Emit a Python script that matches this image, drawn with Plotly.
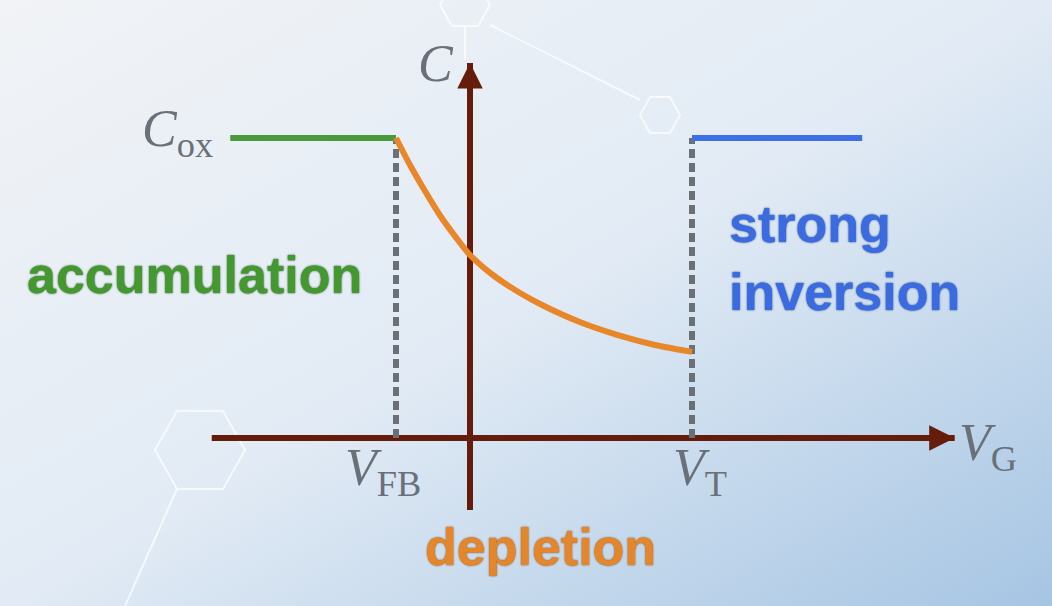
import plotly.graph_objects as go

# C-V curve of a MOS capacitor (sketch), gate voltage in arbitrary units
V_FB = -1.0
V_T = 3.0
C_OX = 1.0

# axes extents
vg_axis = [-3.49, 6.55]
c_axis = [-0.24, 1.25]

# accumulation (flat at Cox)
acc_vg = [-3.24, V_FB]
acc_c = [C_OX, C_OX]

# depletion (falling curve)
dep_vg = [-1.0, -0.8, -0.6, -0.4, -0.2, 0.0, 0.3, 0.7, 1.0, 1.5, 2.0, 2.5, 3.0]
dep_c = [1.0, 0.905, 0.82, 0.74, 0.672, 0.61, 0.545, 0.48, 0.44, 0.385, 0.343, 0.31, 0.287]

# strong inversion (back at Cox)
inv_vg = [V_T, 5.3]
inv_c = [C_OX, C_OX]

AXIS = "#651c0a"
GRAY_TXT = "#697079"

bg_svg = (
    "data:image/svg+xml;utf8,"
    "<svg xmlns='http://www.w3.org/2000/svg' width='1052' height='606'>"
    "<defs><linearGradient id='g' x1='0' y1='0' x2='1' y2='1'>"
    "<stop offset='0' stop-color='%23f1f3f6'/>"
    "<stop offset='0.5' stop-color='%23e2ebf5'/>"
    "<stop offset='1' stop-color='%23a6c5e3'/>"
    "</linearGradient></defs>"
    "<rect width='1052' height='606' fill='url(%23g)'/>"
    "<g fill='none' stroke='white' stroke-opacity='0.7' stroke-width='2'>"
    "<path d='M155,450 L177,411 L223,411 L245,450 L223,489 L177,489 Z'/>"
    "<path d='M177,489 L125,606'/>"
    "<path d='M640,115 L650,97 L670,97 L680,115 L670,133 L650,133 Z'/>"
    "<path d='M440,5 L452,-16 L478,-16 L490,5 L478,26 L452,26 Z'/>"
    "<path d='M490,25 L640,100'/>"
    "<path d='M465,26 L465,60'/>"
    "</g></svg>"
)

fig = go.Figure()

# axes lines
fig.add_trace(go.Scatter(x=vg_axis, y=[0, 0], mode="lines",
                         line=dict(color=AXIS, width=6), hoverinfo="skip"))
fig.add_trace(go.Scatter(x=[0, 0], y=c_axis, mode="lines",
                         line=dict(color=AXIS, width=6), hoverinfo="skip"))

# dashed guides at V_FB and V_T
for v in (V_FB, V_T):
    fig.add_trace(go.Scatter(x=[v, v], y=[0, C_OX], mode="lines",
                             line=dict(color="#6b7076", width=6, dash="9px,5px"),
                             hoverinfo="skip"))

fig.add_trace(go.Scatter(x=acc_vg, y=acc_c, mode="lines",
                         line=dict(color="#4a9a3c", width=6)))
fig.add_trace(go.Scatter(x=dep_vg, y=dep_c, mode="lines",
                         line=dict(color="#e8862a", width=6, shape="spline", smoothing=0.8)))
fig.add_trace(go.Scatter(x=inv_vg, y=inv_c, mode="lines",
                         line=dict(color="#3d6fe6", width=6)))

# arrow heads
fig.add_annotation(x=vg_axis[1], y=0, ax=vg_axis[1] - 0.4, ay=0, axref="x", ayref="y",
                   text="", showarrow=True, arrowhead=2, arrowsize=0.85,
                   arrowwidth=6, arrowcolor=AXIS)
fig.add_annotation(x=0, y=c_axis[1], ax=0, ay=c_axis[1] - 0.1, axref="x", ayref="y",
                   text="", showarrow=True, arrowhead=2, arrowsize=0.85,
                   arrowwidth=6, arrowcolor=AXIS)

serif = dict(family="Liberation Serif", color=GRAY_TXT)
fig.add_annotation(x=-3.45, y=1.017, text="<i>C</i><sub>ox</sub>", showarrow=False,
                   xanchor="right", yanchor="middle", font=dict(size=52, **serif))
fig.add_annotation(x=-0.46, y=1.247, text="<i>C</i>", showarrow=False,
                   font=dict(size=52, **serif))
fig.add_annotation(x=V_FB - 0.18, y=-0.113, text="<i>V</i><sub>FB</sub>", showarrow=False,
                   font=dict(size=52, **serif))
fig.add_annotation(x=V_T + 0.11, y=-0.113, text="<i>V</i><sub>T</sub>", showarrow=False,
                   font=dict(size=52, **serif))
fig.add_annotation(x=7.0, y=-0.027, text="<i>V</i><sub>G</sub>", showarrow=False,
                   font=dict(size=52, **serif))

fig.add_annotation(x=-3.72, y=0.543, text="<b>accumulation</b>", showarrow=False,
                   font=dict(family="Liberation Sans", size=52, color="#43982f",
                             shadow="0px 0px 2px #1f4a18"))
fig.add_annotation(x=3.47, y=0.6, text="<b>strong<br>inversion</b>", showarrow=False,
                   xanchor="left", align="left",
                   font=dict(family="Liberation Sans", size=52, color="#3b6be0",
                             shadow="0px 0px 2px #1c3a80"))
fig.add_annotation(x=0.946, y=-0.363, text="<b>depletion</b>", showarrow=False,
                   font=dict(family="Liberation Sans", size=52, color="#e5862a",
                             shadow="0px 0px 2px #7a4010"))

fig.update_layout(
    width=1052, height=606,
    margin=dict(l=0, r=0, t=0, b=0),
    paper_bgcolor="#e6eef6", plot_bgcolor="rgba(0,0,0,0)",
    showlegend=False,
    xaxis=dict(range=[-470 / 74, 582 / 74], visible=False, fixedrange=True),
    yaxis=dict(range=[-168 / 300, 438 / 300], visible=False, fixedrange=True),
    images=[dict(source=bg_svg, xref="paper", yref="paper", x=0, y=1,
                 sizex=1, sizey=1, sizing="stretch", layer="below",
                 xanchor="left", yanchor="top")],
)

# drop the default page margin so the figure fills the window
fig.write_html("out.html", config={"displayModeBar": False},
               post_script="document.body.style.margin='0';document.body.style.overflow='hidden';")
